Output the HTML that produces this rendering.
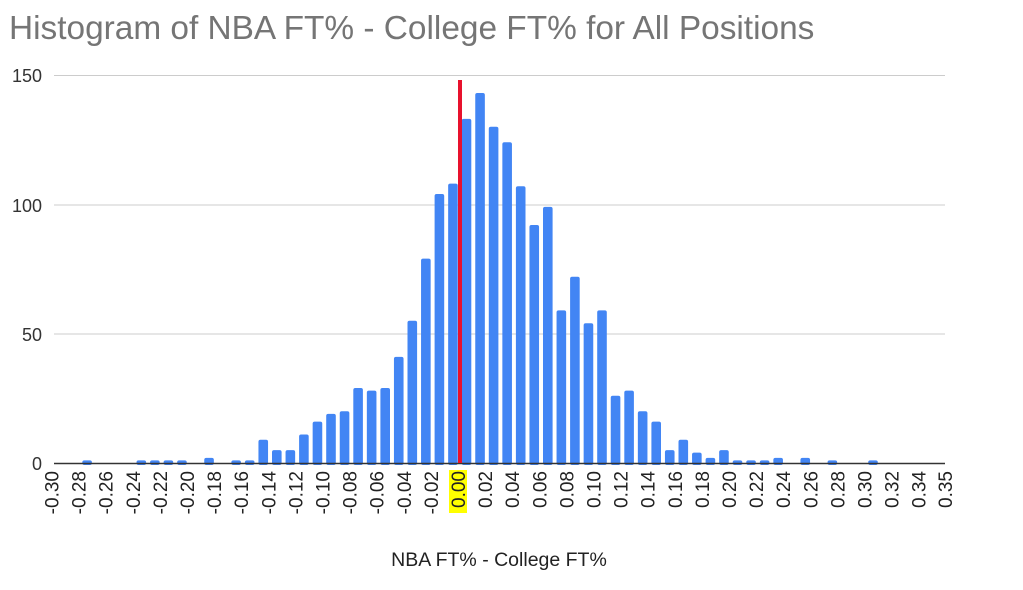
<!DOCTYPE html>
<html><head><meta charset="utf-8"><style>body{margin:0;background:#fff}svg{display:block}</style></head>
<body>
<svg width="1023" height="590" xmlns="http://www.w3.org/2000/svg" font-family="Liberation Sans, Arial, sans-serif">
<text x="9" y="39" font-size="33.4" fill="#757575">Histogram of NBA FT% - College FT% for All Positions</text>
<g stroke="#cccccc" stroke-width="1">
<line x1="54" x2="945" y1="75.5" y2="75.5"/>
<line x1="54" x2="945" y1="205" y2="205"/>
<line x1="54" x2="945" y1="334" y2="334"/>
</g>
<g font-size="18" fill="#333" text-anchor="end">
<text x="42" y="82">150</text><text x="42" y="212">100</text><text x="42" y="341">50</text><text x="42" y="470">0</text>
</g>
<g id="bars" fill="#4285f4"></g>
<line x1="54" x2="945" y1="463.5" y2="463.5" stroke="#333" stroke-width="1.5"/>
<line x1="460" x2="460" y1="80" y2="463" stroke="#e8112d" stroke-width="4"/>
<rect x="449" y="470" width="18" height="43" fill="#ffff00"/>
<g id="xl" font-size="19" fill="#222" text-anchor="end"></g>
<text x="499" y="566" font-size="19.5" fill="#222" text-anchor="middle">NBA FT% - College FT%</text>
<script>
var d={2:1,6:1,7:1,8:1,9:1,11:2,13:1,14:1,15:9,16:5,17:5,18:11,19:16,20:19,21:20,22:29,23:28,24:29,25:41,26:55,27:79,28:104,29:108,30:133,31:143,32:130,33:124,34:107,35:92,36:99,37:59,38:72,39:54,40:59,41:26,42:28,43:20,44:16,45:5,46:9,47:4,48:2,49:5,50:1,51:1,52:1,53:2,55:2,57:1,60:1};
var ns="http://www.w3.org/2000/svg",g=document.getElementById('bars');
for(var k in d){var h=d[k]*2.587,cx=60+13.55*k;var r=document.createElementNS(ns,'rect');
r.setAttribute('x',cx-4.8);r.setAttribute('y',463-h);r.setAttribute('width',9.6);r.setAttribute('height',h+2);r.setAttribute('rx',2);g.appendChild(r);}
var xl=document.getElementById('xl');
for(var i=0;i<=33;i++){var v,x;if(i<33){v=-0.30+0.02*i;x=458+(i-15)*27.1;}else{v=0.35;x=945;}
var s=(Math.abs(v)<1e-9?'0.00':v.toFixed(2));var t=document.createElementNS(ns,'text');
t.setAttribute('transform','translate('+(x+7)+',471) rotate(-90)');t.setAttribute('x',0);t.setAttribute('y',0);t.textContent=s;xl.appendChild(t);}
</script>
</svg>
</body></html>
